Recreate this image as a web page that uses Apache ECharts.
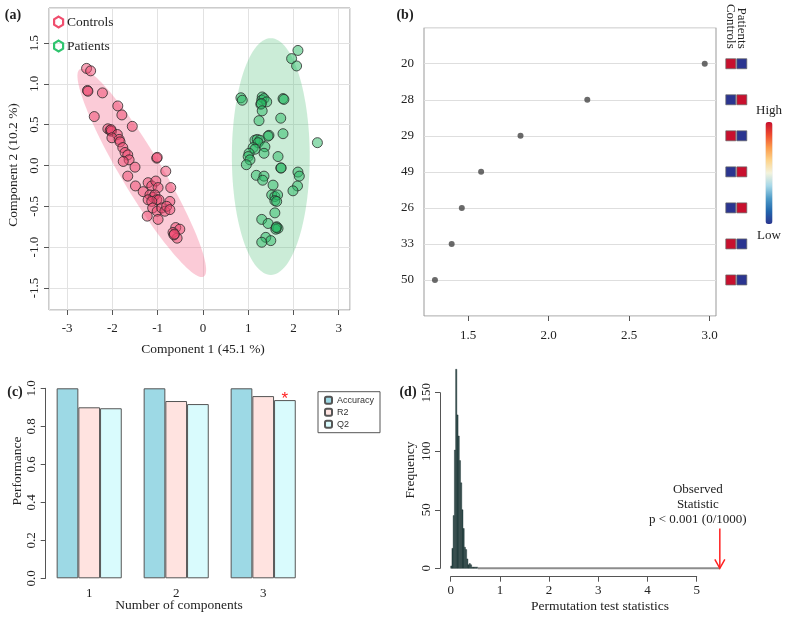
<!DOCTYPE html>
<html>
<head>
<meta charset="utf-8">
<script src="https://cdn.jsdelivr.net/npm/echarts@6/dist/echarts.min.js"></script>
<style>
html, body { margin: 0; padding: 0; background: #fff; }
#main { width: 788px; height: 619px; }
</style>
</head>
<body>
<div id="main"></div>
<script>
// ---- (a) scores plot: [component 1, component 2]
var controls = [
    [-2.57, 1.19], [-2.48, 1.16], [-2.55, 0.92], [-2.54, 0.91], [-2.22, 0.89], [-2.40, 0.60],
    [-1.88, 0.73], [-1.79, 0.62], [-2.10, 0.45], [-2.05, 0.43], [-2.02, 0.42], [-2.03, 0.44],
    [-1.89, 0.38], [-2.01, 0.34], [-1.85, 0.32], [-1.83, 0.29], [-1.56, 0.48], [-1.77, 0.22],
    [-1.72, 0.16], [-1.66, 0.13], [-1.63, 0.07], [-1.76, 0.05], [-1.50, -0.02], [-1.66, -0.13],
    [-1.02, 0.09], [-1.01, 0.10], [-0.82, -0.07], [-1.49, -0.25], [-1.32, -0.32], [-1.21, -0.21],
    [-1.13, -0.25], [-1.04, -0.19], [-0.99, -0.27], [-0.71, -0.27], [-1.17, -0.36], [-1.10, -0.39],
    [-1.06, -0.36], [-1.02, -0.42], [-0.97, -0.42], [-1.21, -0.42], [-1.13, -0.44], [-0.73, -0.44],
    [-1.11, -0.52], [-1.01, -0.56], [-0.91, -0.52], [-0.84, -0.56], [-0.80, -0.50], [-0.73, -0.54],
    [-1.23, -0.62], [-0.99, -0.66], [-0.60, -0.76], [-0.51, -0.78], [-0.66, -0.82], [-0.57, -0.89],
    [-0.64, -0.85], [-0.63, -0.84]
];
var patients = [
    [2.10, 1.41], [1.96, 1.31], [2.07, 1.22], [0.84, 0.83], [0.87, 0.80], [1.31, 0.84],
    [1.30, 0.80], [1.35, 0.82], [1.41, 0.78], [1.28, 0.75], [1.29, 0.76], [1.31, 0.67],
    [1.77, 0.82], [1.79, 0.81], [1.72, 0.58], [1.24, 0.55], [1.77, 0.39], [1.46, 0.37],
    [1.44, 0.36], [1.15, 0.31], [1.20, 0.32], [1.26, 0.31], [1.22, 0.28], [2.53, 0.28],
    [1.11, 0.22], [1.15, 0.20], [1.37, 0.23], [1.35, 0.15], [1.02, 0.15], [1.00, 0.11],
    [1.04, 0.07], [0.96, 0.01], [1.66, 0.11], [1.72, -0.03], [1.73, -0.03], [1.18, -0.12],
    [1.35, -0.13], [1.32, -0.18], [2.10, -0.08], [2.13, -0.13], [2.09, -0.25], [1.99, -0.31],
    [1.55, -0.24], [1.52, -0.36], [1.59, -0.38], [1.65, -0.36], [1.59, -0.43], [1.63, -0.44],
    [1.59, -0.58], [1.30, -0.66], [1.44, -0.71], [1.63, -0.75], [1.66, -0.77], [1.61, -0.78],
    [1.62, -0.76], [1.39, -0.88], [1.50, -0.92], [1.30, -0.94]
];
// confidence ellipses: centre x, centre y, semi-axis u (x, y), semi-axis v (x, y)
var controlsEllipse = [-1.35, -0.09, 1.37, -1.27, 0.38, 0.13];
var patientsEllipse = [1.50, 0.11, 0, 1.45, 0.86, 0];

// ---- (b) VIP scores
var features = ['20', '28', '29', '49', '26', '33', '50'];
var vipScores = [2.97, 2.24, 1.825, 1.58, 1.46, 1.397, 1.293];
var groups = ['Controls', 'Patients'];
var controlsLevel = [1, 0, 1, 0, 0, 1, 1];
var patientsLevel = [0, 1, 0, 1, 1, 0, 0];

// ---- (c) performance
var nComp = ['1', '2', '3'];
var accuracy = [1.0, 1.0, 1.0];
var r2 = [0.900, 0.933, 0.959];
var q2 = [0.895, 0.917, 0.938];

// ---- (d) permutation test
var binWidth = 0.025;
var permCounts = [2, 17, 45, 101, 170, 131, 113, 92, 73, 50, 34, 18, 16, 8, 3, 4, 3, 1, 1, 1, 1, 1];
var observedStat = 5.47;
var arrowLen = 34;

var serif = "'Liberation Serif', 'DejaVu Serif', serif";
var sans = "'Liberation Sans', 'DejaVu Sans', sans-serif";

var myChart = echarts.init(document.getElementById('main'));

var padded = [''].concat(features, ['']);
var heatData = [];
features.forEach(function (f, i) {
    heatData.push([groups[0], f, controlsLevel[i]]);
    heatData.push([groups[1], f, patientsLevel[i]]);
});
var histData = permCounts.map(function (c, i) {
    return [i * binWidth, (i + 1) * binWidth, c];
});
// the empty bins between the last count and the observed statistic
histData.push([permCounts.length * binWidth, observedStat, 0]);

var ellipseFill = ['rgba(245,110,145,0.36)', 'rgba(70,185,110,0.28)'];
var hexIcon = 'path://M5,0 L10,3 L10,9 L5,12 L0,9 L0,3 Z';

function tickStyle() {
    return { show: true, length: 5, lineStyle: { color: '#555' } };
}
function lbl(extra) {
    var o = { color: '#222', fontFamily: serif, fontSize: 13 };
    for (var k in extra) o[k] = extra[k];
    return o;
}
function title(text, x, y, rot, bold) {
    return {
        type: 'text', x: x, y: y, rotation: rot ? Math.PI / 2 : 0,
        style: {
            text: text, fill: '#222', textAlign: 'center', textVerticalAlign: 'middle',
            font: (bold ? 'bold 14px ' : '13.5px ') + serif
        }
    };
}

var option = {
    animation: false,
    backgroundColor: '#fff',
    grid: [
        { left: 49, top: 8, width: 301, height: 302, show: true, borderColor: '#999', borderWidth: 1 },
        { left: 424, top: 27.7, width: 292, height: 288.3, show: true, borderColor: '#999', borderWidth: 1 },
        { left: 725.3, top: 27.7, width: 22, height: 288.3 },
        { left: 45.7, top: 388.3, width: 261, height: 190 },
        { left: 450.7, top: 392.7, width: 246, height: 175.6 }
    ],
    xAxis: [
        {
            gridIndex: 0, type: 'value', min: -3.4, max: 3.25, splitNumber: 7,
            axisLine: { show: false, onZero: false }, axisTick: tickStyle(),
            axisLabel: lbl({ margin: 12, showMinLabel: false, showMaxLabel: false }),
            splitLine: { show: true, lineStyle: { color: '#e2e2e2' } }
        },
        {
            gridIndex: 1, type: 'value', min: 1.225, max: 3.04, splitNumber: 4,
            axisLine: { show: false, onZero: false }, axisTick: tickStyle(),
            axisLabel: lbl({ margin: 13, showMinLabel: false, showMaxLabel: false,
                formatter: function (v) { return v.toFixed(1); } }),
            splitLine: { show: false }
        },
        {
            gridIndex: 2, type: 'category', data: groups, position: 'top', offset: -23,
            axisLine: { show: false }, axisTick: { show: false },
            axisLabel: lbl({ rotate: 90, margin: 2, interval: 0 })
        },
        {
            gridIndex: 3, type: 'category', data: nComp,
            axisLine: { show: false }, axisTick: { show: false },
            axisLabel: lbl({ margin: 9 })
        },
        {
            gridIndex: 4, type: 'value', min: 0, max: 5, interval: 1, offset: 8.4,
            axisLine: { show: true, onZero: false, lineStyle: { color: '#555' } }, axisTick: tickStyle(),
            axisLabel: lbl({ margin: 7 }),
            splitLine: { show: false }
        }
    ],
    yAxis: [
        {
            gridIndex: 0, type: 'value', min: -1.77, max: 1.93, splitNumber: 7,
            axisLine: { show: false, onZero: false }, axisTick: tickStyle(),
            axisLabel: lbl({ rotate: 90, margin: 8, showMinLabel: false, showMaxLabel: false,
                formatter: function (v) { return v.toFixed(1); } }),
            splitLine: { show: true, lineStyle: { color: '#e2e2e2' } }
        },
        {
            gridIndex: 1, type: 'category', data: padded, inverse: true, boundaryGap: false,
            axisLine: { show: false, onZero: false }, axisTick: { show: false },
            axisLabel: lbl({ margin: 10, interval: 0 }),
            splitLine: { show: true, lineStyle: { color: '#dedede' } }
        },
        {
            gridIndex: 2, type: 'category', data: padded, inverse: true, boundaryGap: false,
            show: false
        },
        {
            gridIndex: 3, type: 'value', min: 0, max: 1, interval: 0.2,
            axisLine: { show: true, onZero: false, lineStyle: { color: '#555' } }, axisTick: tickStyle(),
            axisLabel: lbl({ rotate: 90, margin: 8, formatter: function (v) { return v.toFixed(1); } }),
            splitLine: { show: false }
        },
        {
            gridIndex: 4, type: 'value', min: 0, max: 150, interval: 50, offset: 10.7,
            axisLine: { show: true, onZero: false, lineStyle: { color: '#555' } }, axisTick: tickStyle(),
            axisLabel: lbl({ rotate: 90, margin: 7 }),
            splitLine: { show: false }
        }
    ],
    legend: [
        {
            left: 53, top: 15, orient: 'vertical', padding: 0, itemGap: 10,
            itemWidth: 9, itemHeight: 12,
            textStyle: { fontFamily: serif, fontSize: 13.5, color: '#222', padding: [0, 0, 0, -1] },
            data: [
                { name: 'Controls', icon: hexIcon,
                  itemStyle: { color: 'rgba(0,0,0,0)', borderColor: '#F04E6E', borderWidth: 2.2 } },
                { name: 'Patients', icon: hexIcon,
                  itemStyle: { color: 'rgba(0,0,0,0)', borderColor: '#2FC46E', borderWidth: 2.2 } }
            ]
        },
        {
            left: 318, top: 391.7, orient: 'vertical', padding: [4, 6, 4, 6], itemGap: 3,
            itemWidth: 7, itemHeight: 7, borderColor: '#555', borderWidth: 1,
            textStyle: { fontFamily: sans, fontSize: 9, color: '#333' },
            data: ['Accuracy', 'R2', 'Q2']
        }
    ],
    visualMap: {
        type: 'continuous', min: 0, max: 1, dimension: 2, seriesIndex: 4,
        left: 741, top: 89, itemWidth: 7, itemHeight: 102, textGap: 5,
        text: ['High', 'Low'], calculable: false,
        textStyle: { fontFamily: serif, fontSize: 13, color: '#222' },
        inRange: { color: ['#2b3590', '#2166ac', '#4d9ac7', '#a7d8e8', '#f3f3dc',
                           '#fdd38a', '#fb9a4b', '#ee4a2e', '#c8102e'] }
    },
    graphic: [
        title('(a)', 13, 15, false, true),
        title('(b)', 405, 15, false, true),
        title('(c)', 15, 392, false, true),
        title('(d)', 408, 392, false, true),
        title('Component 1 (45.1 %)', 203, 349),
        title('Component 2 (10.2 %)', 13, 165, true),
        title('Performance', 17, 471, true),
        title('Number of components', 179, 605),
        title('Frequency', 410, 470, true),
        title('Permutation test statistics', 600, 606.5)
    ],
    series: [
        {
            // 0: ellipses
            type: 'custom', xAxisIndex: 0, yAxisIndex: 0, silent: true, z: 1,
            data: [controlsEllipse, patientsEllipse],
            encode: { x: 0, y: 1 },
            renderItem: function (params, api) {
                var cx = api.value(0), cy = api.value(1);
                var ux = api.value(2), uy = api.value(3);
                var vx = api.value(4), vy = api.value(5);
                var pts = [];
                for (var k = 0; k <= 120; k++) {
                    var t = k / 120 * Math.PI * 2;
                    pts.push(api.coord([cx + ux * Math.cos(t) + vx * Math.sin(t),
                                        cy + uy * Math.cos(t) + vy * Math.sin(t)]));
                }
                return { type: 'polygon', shape: { points: pts },
                         style: { fill: ellipseFill[params.dataIndex] } };
            }
        },
        {
            // 1
            name: 'Controls', type: 'scatter', xAxisIndex: 0, yAxisIndex: 0, z: 3,
            symbolSize: 10, data: controls,
            itemStyle: { color: 'rgba(240,70,110,0.5)', borderColor: '#2a2a2a', borderWidth: 0.8, opacity: 1 }
        },
        {
            // 2
            name: 'Patients', type: 'scatter', xAxisIndex: 0, yAxisIndex: 0, z: 3,
            symbolSize: 10, data: patients,
            itemStyle: { color: 'rgba(40,185,100,0.5)', borderColor: '#2a2a2a', borderWidth: 0.8, opacity: 1 }
        },
        {
            // 3: VIP dots
            type: 'scatter', xAxisIndex: 1, yAxisIndex: 1, symbolSize: 6,
            data: features.map(function (f, i) { return [vipScores[i], f]; }),
            itemStyle: { color: '#454545' }
        },
        {
            // 4: group level squares
            type: 'scatter', xAxisIndex: 2, yAxisIndex: 2, symbol: 'rect', symbolSize: 10,
            data: heatData,
            itemStyle: { borderColor: '#666', borderWidth: 0.7, opacity: 1 }
        },
        {
            name: 'Accuracy', type: 'bar', xAxisIndex: 3, yAxisIndex: 3, barWidth: 21.7, barGap: '0%',
            data: accuracy,
            itemStyle: { color: '#9DD9E5', borderColor: '#555', borderWidth: 1 }
        },
        {
            name: 'R2', type: 'bar', xAxisIndex: 3, yAxisIndex: 3, barWidth: 21.7, barGap: '0%',
            data: r2,
            itemStyle: { color: '#FFE3E0', borderColor: '#555', borderWidth: 1 }
        },
        {
            name: 'Q2', type: 'bar', xAxisIndex: 3, yAxisIndex: 3, barWidth: 21.7, barGap: '0%',
            data: q2.map(function (v, i) {
                if (i !== q2.length - 1) return v;
                return { value: v, label: { show: true, position: 'top', formatter: '*',
                         color: '#FF2020', fontSize: 17, fontFamily: sans, distance: -8 } };
            }),
            itemStyle: { color: '#D9FBFD', borderColor: '#555', borderWidth: 1 }
        },
        {
            // 8: histogram (zero-count bins drawn as a flat grey line)
            type: 'custom', xAxisIndex: 4, yAxisIndex: 4, clip: false,
            data: histData, encode: { x: [0, 1], y: 2 },
            renderItem: function (params, api) {
                var p0 = api.coord([api.value(0), api.value(2)]);
                var p1 = api.coord([api.value(1), 0]);
                if (api.value(2) === 0) {
                    return { type: 'line', shape: { x1: p0[0], y1: p1[1], x2: p1[0], y2: p1[1] },
                             style: { stroke: '#8c8c8c', lineWidth: 2 } };
                }
                return { type: 'rect',
                         shape: { x: p0[0], y: p0[1], width: p1[0] - p0[0], height: p1[1] - p0[1] },
                         style: { fill: '#2F4F4F', stroke: '#1b2b2b', lineWidth: 0.4 } };
            }
        },
        {
            // 9: observed statistic arrow
            type: 'custom', xAxisIndex: 4, yAxisIndex: 4, clip: false, z: 3,
            data: [[observedStat, arrowLen]], encode: { x: 0, y: 1 },
            renderItem: function (params, api) {
                var top = api.coord([api.value(0), api.value(1)]);
                var bot = api.coord([api.value(0), 0]);
                return {
                    type: 'group',
                    children: [
                        { type: 'line', shape: { x1: top[0], y1: top[1], x2: bot[0], y2: bot[1] },
                          style: { stroke: '#FF2020', lineWidth: 1.5 } },
                        { type: 'polyline',
                          shape: { points: [[bot[0] - 5, bot[1] - 9], [bot[0], bot[1]], [bot[0] + 5, bot[1] - 9]] },
                          style: { stroke: '#FF2020', lineWidth: 1.5, fill: null } },
                        { type: 'text', x: top[0] - 22, y: top[1] - 1,
                          style: { text: 'Observed\nStatistic\np < 0.001 (0/1000)', fill: '#222',
                                   font: '13px ' + serif, lineHeight: 15,
                                   textAlign: 'center', textVerticalAlign: 'bottom' } }
                    ]
                };
            }
        }
    ]
};

myChart.setOption(option);
</script>
</body>
</html>
